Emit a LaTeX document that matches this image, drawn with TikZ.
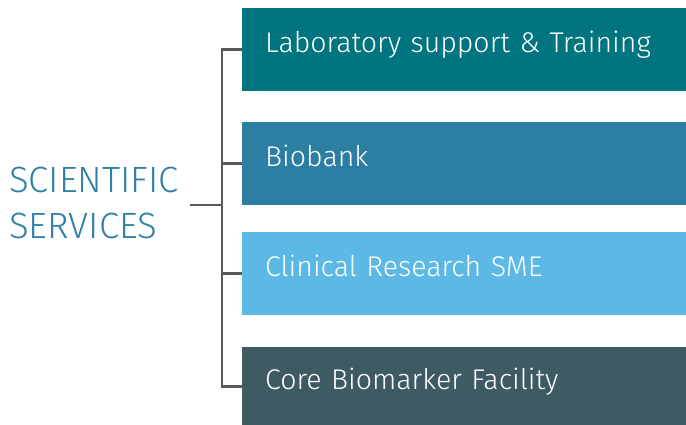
\documentclass[tikz,border=0pt]{standalone}
\usepackage{fontspec}
\setmainfont{Fira Sans Light}
\definecolor{cA}{HTML}{00757F}
\definecolor{cB}{HTML}{2C7FA2}
\definecolor{cC}{HTML}{5CB9E6}
\definecolor{cD}{HTML}{3E5A62}
\definecolor{cTitle}{HTML}{2E80A4}
\definecolor{cLine}{HTML}{5A5A5A}
\begin{document}
\begin{tikzpicture}[x=1pt,y=-1pt,
  box/.style={anchor=north west, minimum width=444pt, minimum height=#1, inner xsep=23pt,
    text width=398pt, align=left, text=white, text height=17pt, text depth=10.6pt,
    font=\fontsize{28.5}{30}\selectfont},
  conn/.style={draw=cLine, line width=2.6pt}]
\useasboundingbox (0,0) rectangle (686,425);
\node[box=82.7pt, fill=cA] (b1) at (242,8) {Laboratory support \& Training};
\node[box=82.7pt, fill=cB] (b2) at (242,122) {Biobank};
\node[box=82.7pt, fill=cC] (b3) at (242,232) {Clinical Research SME};
\node[box=78pt, fill=cD] (b4) at (242,347) {Core Biomarker Facility};
\node[anchor=west, inner sep=0pt, align=left, text=cTitle,
  font=\fontsize{36.5}{46}\selectfont] (title) at (9,203) {SCIENTIFIC\\SERVICES};
\coordinate (j) at (222,205);
\coordinate (stub) at (190,205);
\draw[conn] (b1.west) -- (b1.west -| j) -- (b4.west -| j) -- (b4.west);
\draw[conn] (b2.west) -- (b2.west -| j);
\draw[conn] (b3.west) -- (b3.west -| j);
\draw[conn] (stub) -- (j);
\end{tikzpicture}
\end{document}
